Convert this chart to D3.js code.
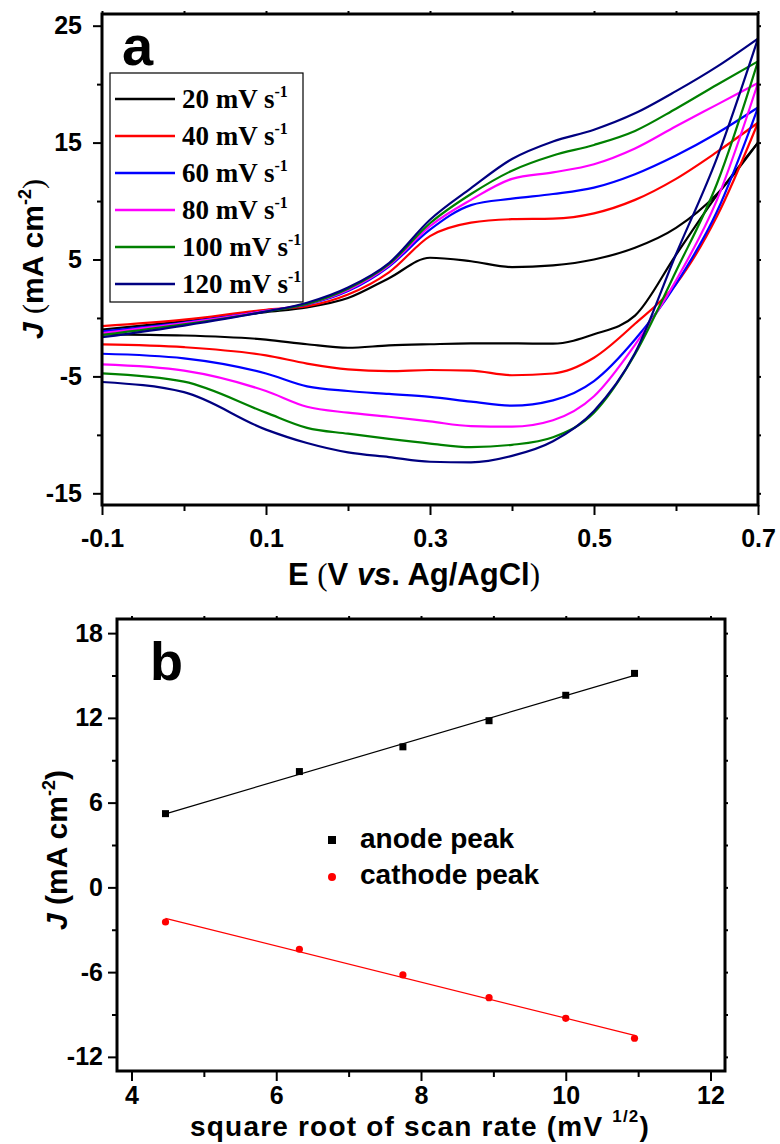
<!DOCTYPE html>
<html>
<head>
<meta charset="utf-8">
<script src="https://cdn.jsdelivr.net/npm/d3@7"></script>
<style>
    body { margin: 0; background: #ffffff; }
    svg text { font-family: 'Liberation Sans', Arial, sans-serif; font-weight: bold; fill: #000000; }
</style>
</head>
<body>
<div id="chart"></div>
<script>
// ---- panel a: cyclic voltammograms ----
const scanRates = ['20', '40', '60', '80', '100', '120'];
const curveColors = ['#000000', '#ff0000', '#0000ff', '#ff00ff', '#008000', '#000080'];
const potentials = [-0.1, 0.0, 0.1, 0.15, 0.2, 0.25, 0.3, 0.35, 0.4, 0.45, 0.5, 0.55, 0.6, 0.65, 0.7];

// forward (upper) branch, one row per scan rate
const anodicScan = [
    [-1.0, -0.3, 0.5, 0.9, 1.7, 3.4, 5.15, 4.85, 4.35, 4.5, 5.0, 6.0, 7.7, 10.6, 15.0],
    [-0.7, -0.15, 0.7, 1.0, 2.0, 3.9, 7.0, 8.15, 8.45, 8.5, 8.95, 10.1, 11.9, 14.2, 16.7],
    [-1.15, -0.4, 0.6, 1.15, 2.3, 4.4, 7.55, 9.65, 10.2, 10.6, 11.15, 12.3, 13.9, 15.8, 18.0],
    [-1.3, -0.45, 0.6, 1.2, 2.4, 4.5, 7.85, 10.1, 11.9, 12.45, 13.15, 14.5, 16.4, 18.25, 20.1],
    [-1.45, -0.55, 0.55, 1.2, 2.5, 4.6, 8.1, 10.6, 12.6, 13.9, 14.8, 16.0, 17.9, 19.95, 21.95],
    [-1.65, -0.65, 0.55, 1.3, 2.6, 4.7, 8.4, 11.1, 13.6, 15.1, 16.1, 17.5, 19.4, 21.5, 23.9]
];
// reverse (lower) branch
const cathodicScan = [
    [-1.4, -1.5, -1.85, -2.25, -2.55, -2.35, -2.25, -2.18, -2.18, -2.2, -1.4, 0.2, 5.4, 10.5, 15.0],
    [-2.26, -2.5, -3.2, -3.9, -4.4, -4.55, -4.45, -4.5, -4.9, -4.75, -3.4, -0.5, 2.9, 8.7, 16.7],
    [-3.06, -3.45, -4.75, -5.85, -6.25, -6.5, -6.75, -7.15, -7.5, -7.05, -5.4, -1.85, 2.9, 9.1, 18.0],
    [-3.97, -4.5, -6.25, -7.6, -8.1, -8.45, -8.85, -9.25, -9.3, -8.75, -6.7, -2.3, 3.2, 10.1, 20.1],
    [-4.74, -5.45, -8.1, -9.4, -9.9, -10.35, -10.75, -11.05, -10.85, -10.2, -8.1, -3.1, 4.0, 11.5, 21.95],
    [-5.48, -6.35, -9.55, -10.7, -11.5, -11.9, -12.3, -12.35, -11.8, -10.55, -7.95, -3.0, 5.45, 13.7, 23.9]
];
const cvTicksX = [-0.1, 0.1, 0.3, 0.5, 0.7];
const cvMinorX = [0, 0.2, 0.4, 0.6];
const cvTicksY = [-15, -5, 5, 15, 25];
const cvMinorY = [-10, 0, 10, 20];

// ---- panel b: peak current vs sqrt(scan rate) ----
const sqrtScanRate = [4.47, 6.32, 7.75, 8.94, 10.0, 10.95];
const anodePeak = [5.22, 8.2, 9.95, 11.8, 13.6, 15.15];
const cathodePeak = [-2.45, -4.38, -6.2, -7.81, -9.27, -10.68];
const peakTicksX = [4, 6, 8, 10, 12];
const peakMinorX = [5, 7, 9, 11];
const peakTicksY = [-12, -6, 0, 6, 12, 18];
const peakMinorY = [-9, -3, 3, 9, 15];

const svg = d3.select('#chart').append('svg')
    .attr('width', 780)
    .attr('height', 1144);

// axis helper: draws an axis, drops the domain line, styles ticks
function addAxis(g, axis, transform) {
    const a = g.append('g')
        .attr('transform', transform)
        .call(axis)
        .attr('font-size', null)
        .attr('font-family', null);
    a.select('.domain').remove();
    a.selectAll('line').attr('stroke', '#000').attr('stroke-width', 2);
    a.selectAll('text').style('font-size', '25px');
    return a;
}

function drawFrame(g, x, y, w, h, t) {
    const fmt = d => String(d);
    addAxis(g, d3.axisBottom(x).tickValues(t.xMajor).tickSize(10).tickPadding(t.xPad).tickFormat(fmt),
        `translate(0,${h})`);
    addAxis(g, d3.axisBottom(x).tickValues(t.xMinor).tickSize(6).tickFormat(''), `translate(0,${h})`);
    addAxis(g, d3.axisLeft(y).tickValues(t.yMajor).tickSize(9).tickPadding(t.yPad).tickFormat(fmt),
        'translate(0,0)');
    addAxis(g, d3.axisLeft(y).tickValues(t.yMinor).tickSize(5).tickFormat(''), 'translate(0,0)');
    addAxis(g, d3.axisTop(x).tickValues(t.xMajor.concat(t.xMinor)).tickSize(3).tickFormat(''), 'translate(0,0)');
    addAxis(g, d3.axisRight(y).tickValues(t.yMajor.concat(t.yMinor)).tickSize(3).tickFormat(''), `translate(${w},0)`);
    g.append('rect')
        .attr('width', w)
        .attr('height', h)
        .attr('fill', 'none')
        .attr('stroke', '#000')
        .attr('stroke-width', 3);
}

// ================= panel a =================
const cvBox = {left: 102, top: 14, width: 656, height: 491};
const cv = svg.append('g').attr('transform', `translate(${cvBox.left},${cvBox.top})`);

const xCv = d3.scaleLinear().domain([-0.1, 0.7]).range([0, cvBox.width]);
const yCv = d3.scaleLinear().domain([-16, 26]).range([cvBox.height, 0]);

const cvLine = d3.line()
    .x(d => xCv(d[0]))
    .y(d => yCv(d[1]))
    .curve(d3.curveMonotoneX);

scanRates.forEach((rate, i) => {
    [anodicScan[i], cathodicScan[i]].forEach(branch => {
        cv.append('path')
            .datum(potentials.map((e, k) => [e, branch[k]]))
            .attr('d', cvLine)
            .attr('fill', 'none')
            .attr('stroke', curveColors[i])
            .attr('stroke-width', 2.2);
    });
});

drawFrame(cv, xCv, yCv, cvBox.width, cvBox.height,
    {xMajor: cvTicksX, xMinor: cvMinorX, yMajor: cvTicksY, yMinor: cvMinorY, xPad: 14, yPad: 11});

// legend box
const legA = svg.append('g').attr('transform', 'translate(110,73)');
legA.append('rect')
    .attr('width', 193)
    .attr('height', 229)
    .attr('fill', '#fff')
    .attr('stroke', '#000')
    .attr('stroke-width', 1.2);
scanRates.forEach((rate, i) => {
    const row = legA.append('g').attr('transform', `translate(0,${26 + i * 37})`);
    row.append('line')
        .attr('x1', 5).attr('x2', 65)
        .attr('stroke', curveColors[i])
        .attr('stroke-width', 2.5);
    const t = row.append('text')
        .attr('x', 72)
        .attr('y', 9)
        .style('font-family', "'Liberation Serif', 'Times New Roman', serif")
        .style('font-size', '27px');
    t.append('tspan').text(rate + ' mV s');
    t.append('tspan').attr('dy', -11).style('font-size', '16px').text('-1');
});

svg.append('text')
    .attr('x', 122)
    .attr('y', 65)
    .style('font-size', '56px')
    .text('a');

// axis titles a
const xTitleA = svg.append('text')
    .attr('x', 414)
    .attr('y', 585)
    .attr('text-anchor', 'middle')
    .style('font-size', '31px');
xTitleA.append('tspan').text('E ');
xTitleA.append('tspan').style('font-family', "'Liberation Serif', serif").style('font-weight', 'normal').text('(');
xTitleA.append('tspan').text('V ');
xTitleA.append('tspan').style('font-style', 'italic').text('vs');
xTitleA.append('tspan').text('. Ag/AgCl');
xTitleA.append('tspan').style('font-family', "'Liberation Serif', serif").style('font-weight', 'normal').text(')');

function yTitle(x, y, serifParens) {
    const t = svg.append('text')
        .attr('transform', `translate(${x},${y}) rotate(-90)`)
        .attr('text-anchor', 'middle')
        .style('font-size', '30px');
    const paren = s => {
        const p = t.append('tspan').text(s);
        if (serifParens) p.style('font-family', "'Liberation Serif', serif").style('font-weight', 'normal');
        return p;
    };
    t.append('tspan').style('font-style', 'italic').text('J ');
    paren('(');
    t.append('tspan').text('mA cm');
    t.append('tspan').attr('dy', -12).style('font-size', '18px').text('-2');
    paren(')').attr('dy', 12);
}
yTitle(43, 259, true);

// ================= panel b =================
const pkBox = {left: 117, top: 619, width: 608, height: 452};
const pk = svg.append('g').attr('transform', `translate(${pkBox.left},${pkBox.top})`);

const xPk = d3.scaleLinear().domain([3.8, 12.2]).range([0, pkBox.width]);
const yPk = d3.scaleLinear().domain([-13, 19]).range([pkBox.height, 0]);

// least-squares line through the measured peaks
function fit(xs, ys) {
    const mx = d3.mean(xs), my = d3.mean(ys);
    const slope = d3.sum(xs, (x, i) => (x - mx) * (ys[i] - my)) / d3.sum(xs, x => (x - mx) * (x - mx));
    const x0 = d3.min(xs), x1 = d3.max(xs);
    return [[x0, my + slope * (x0 - mx)], [x1, my + slope * (x1 - mx)]];
}

const pkLine = d3.line().x(d => xPk(d[0])).y(d => yPk(d[1]));

pk.append('path')
    .datum(fit(sqrtScanRate, anodePeak))
    .attr('d', pkLine)
    .attr('stroke', '#000')
    .attr('stroke-width', 1.2)
    .attr('fill', 'none');
pk.append('path')
    .datum(fit(sqrtScanRate, cathodePeak))
    .attr('d', pkLine)
    .attr('stroke', '#ff0000')
    .attr('stroke-width', 1.2)
    .attr('fill', 'none');

pk.selectAll('.anode')
    .data(sqrtScanRate)
    .join('rect')
    .attr('class', 'anode')
    .attr('x', (d) => xPk(d) - 3.5)
    .attr('y', (d, i) => yPk(anodePeak[i]) - 3.5)
    .attr('width', 7)
    .attr('height', 7)
    .attr('fill', '#000');

pk.selectAll('.cathode')
    .data(sqrtScanRate)
    .join('circle')
    .attr('class', 'cathode')
    .attr('cx', d => xPk(d))
    .attr('cy', (d, i) => yPk(cathodePeak[i]))
    .attr('r', 3.6)
    .attr('fill', '#ff0000');

drawFrame(pk, xPk, yPk, pkBox.width, pkBox.height,
    {xMajor: peakTicksX, xMinor: peakMinorX, yMajor: peakTicksY, yMinor: peakMinorY, xPad: 5, yPad: 5});

// legend b
svg.append('rect').attr('x', 328).attr('y', 836).attr('width', 8).attr('height', 8).attr('fill', '#000');
svg.append('circle').attr('cx', 332).attr('cy', 877).attr('r', 4).attr('fill', '#ff0000');
svg.append('text').attr('x', 360).attr('y', 848).style('font-size', '28px').text('anode peak');
svg.append('text').attr('x', 360).attr('y', 884).style('font-size', '28px').text('cathode peak');

svg.append('text')
    .attr('x', 150)
    .attr('y', 680)
    .style('font-size', '54px')
    .text('b');

const xTitleB = svg.append('text')
    .attr('x', 420)
    .attr('y', 1136)
    .attr('text-anchor', 'middle')
    .style('font-size', '28px')
    .style('letter-spacing', '1.2px');
xTitleB.append('tspan').text('square root of scan rate (mV ');
xTitleB.append('tspan').attr('dy', -14).style('font-size', '17px').text('1/2');
xTitleB.append('tspan').attr('dy', 14).text(')');

yTitle(67, 850, false);
</script>
</body>
</html>
